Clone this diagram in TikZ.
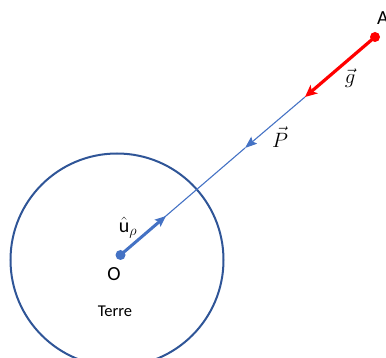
\documentclass[tikz,border=0pt]{standalone}
\usepackage{fontspec}
\setmainfont{Carlito}
\usetikzlibrary{arrows.meta}
\definecolor{offblue}{HTML}{4472C4}
\definecolor{darkblue}{HTML}{2F5597}
\definecolor{vred}{HTML}{FF0000}
\begin{document}
\begin{tikzpicture}[x=1pt,y=-1pt,
  thinline/.style={draw=offblue,line width=1.1pt},
  thickvec/.style={draw=offblue,line width=3pt,-{Stealth[length=11pt,width=9pt,inset=2pt]}},
  redvec/.style={draw=vred,line width=3.2pt,-{Stealth[length=12pt,width=11pt,inset=3pt]}},
  pvec/.style={draw=offblue,line width=1.1pt,-{Stealth[length=12pt,width=9pt,inset=2pt]}},
  dot/.style={circle,inner sep=0pt,minimum size=10pt},
  lbl/.style={inner sep=0pt}]
\useasboundingbox (0,0) rectangle (386,358);
\node[circle,draw=darkblue,line width=2pt,minimum size=213pt,inner sep=0pt] (terre) at (117,260) {};
\node[dot,fill=offblue] (O) at (120.5,255) {};
\node[dot,fill=vred] (A) at (375,37) {};
\coordinate (gtip) at (305,97);
\coordinate (ptip) at (245,148);
\coordinate (utip) at (166,216);
\draw[thinline] (ptip) -- (O.center);
\draw[pvec] (gtip) -- (ptip);
\draw[thickvec] (O.center) -- (utip);
\draw[redvec] (A.center) -- (gtip);
\node[lbl,anchor=base west,font=\fontsize{20}{24}\selectfont] (Alab) at (377,25) {A};
\node[lbl,font=\fontsize{20}{24}\selectfont] (glab) at (350,78) {$\vec{g}$};
\node[lbl,font=\fontsize{20}{24}\selectfont] (plab) at (280,137) {$\vec{P}$};
\node[lbl,font=\fontsize{20}{24}\selectfont] (ulab) at (128,228) {$\hat{\mathrm{u}}_{\rho}$};
\node[lbl,font=\fontsize{20}{24}\selectfont] (Olab) at (114,274) {O};
\node[lbl,font=\fontsize{16.5}{20}\selectfont] (tlab) at (115,311) {Terre};
\end{tikzpicture}
\end{document}
